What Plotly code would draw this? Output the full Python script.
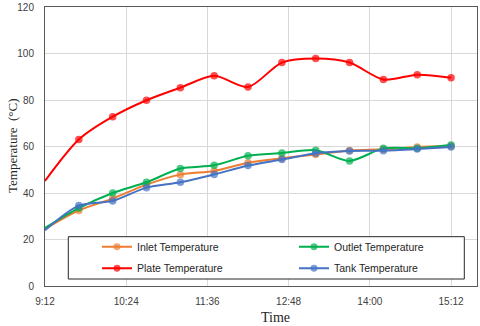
import plotly.graph_objects as go

times = ["09:12", "09:42", "10:12", "10:42", "11:12", "11:42", "12:12",
         "12:42", "13:12", "13:42", "14:12", "14:42", "15:12"]
inlet = [24.5, 32.5, 37.6, 43.6, 47.9, 49.5, 53.0, 54.9, 56.6, 58.3, 58.8, 59.8, 60.2]
outlet = [25.0, 33.5, 40.0, 44.6, 50.5, 51.9, 56.0, 57.2, 58.4, 53.8, 59.2, 59.3, 60.6]
plate = [45.2, 63.0, 72.8, 79.9, 85.3, 90.4, 85.6, 96.1, 97.8, 96.1, 88.8, 90.9, 89.6]
tank = [24.0, 34.6, 36.6, 42.3, 44.6, 48.0, 51.8, 54.4, 57.1, 58.1, 58.2, 58.9, 59.8]
tick_labels = ["9:12", "10:24", "11:36", "12:48", "14:00", "15:12"]

day = "2024-01-01 "
xs = [day + t for t in times]
tickvals = [day + t.zfill(5) for t in tick_labels]

W, H = 480, 326
ml, mr, mt, mb = 45, 3, 7, 40
pw, ph = W - ml - mr, H - mt - mb

def px_x(p):
    return (p - ml) / pw

def px_y(p):
    return (H - mb - p) / ph

msize = [0] + [7.5] * (len(times) - 1)

series = [
    ("Inlet Temperature", inlet, "#ED7D31", "legend", 97, 246.7),
    ("Outlet Temperature", outlet, "#00B050", "legend2", 294, 246.7),
    ("Plate Temperature", plate, "#FF0000", "legend3", 97, 268.3),
    ("Tank Temperature", tank, "#4472C4", "legend4", 294, 268.3),
]

legfont = dict(family="Liberation Sans, Arial, sans-serif", size=10.5, color="#262626")
fig = go.Figure()
legends = {}
for name, vals, col, lg, lx, ly in series:
    fig.add_trace(go.Scatter(
        x=xs, y=vals, name=name, mode="lines+markers",
        line=dict(color=col, width=2, shape="spline", smoothing=0.8),
        marker=dict(color=col, size=msize, line=dict(width=0)),
        legend=lg,
    ))
    legends[lg] = dict(
        orientation="h", x=px_x(lx), y=px_y(ly), xanchor="left", yanchor="middle",
        bgcolor="rgba(0,0,0,0)", borderwidth=0, font=legfont, itemwidth=30,
    )

tickfont = dict(family="Liberation Sans, Arial, sans-serif", size=10, color="#404040")
fig.update_layout(
    width=W, height=H,
    margin=dict(l=ml, r=mr, t=mt, b=mb, autoexpand=False),
    paper_bgcolor="white", plot_bgcolor="white",
    xaxis=dict(
        type="date", range=[day + "09:12", day + "15:35"],
        tickvals=tickvals, ticktext=tick_labels,
        showgrid=True, gridcolor="#d9d9d9", gridwidth=1,
        showline=True, linecolor="#595959", linewidth=1, mirror=True,
        ticks="", tickfont=tickfont, ticklabelstandoff=6, automargin=False,
    ),
    yaxis=dict(
        range=[0, 120], dtick=20, tick0=0,
        showgrid=True, gridcolor="#d9d9d9", gridwidth=1,
        showline=True, linecolor="#595959", linewidth=1, mirror=True,
        ticks="", tickfont=tickfont, ticklabelstandoff=8, zeroline=False, automargin=False,
    ),
    shapes=[dict(
        type="rect", xref="paper", yref="paper",
        x0=px_x(68.3), x1=px_x(464.3), y0=px_y(279), y1=px_y(236.7),
        line=dict(color="#262626", width=1), fillcolor="white", layer="above",
    )],
    annotations=[
        dict(text="Time", xref="paper", yref="paper", x=px_x(275), y=px_y(317),
             showarrow=False, xanchor="center", yanchor="middle",
             font=dict(family="Liberation Serif, Times New Roman, serif", size=14, color="#262626")),
        dict(text="Temperature  (°C)", xref="paper", yref="paper", x=px_x(12), y=px_y(146),
             showarrow=False, xanchor="center", yanchor="middle", textangle=-90,
             font=dict(family="Liberation Serif, Times New Roman, serif", size=13, color="#262626")),
    ],
    showlegend=True,
    **legends,
)

fig.write_html("out.html", config={"displayModeBar": False},
               post_script="document.body.style.margin='0';document.body.style.overflow='hidden';")
